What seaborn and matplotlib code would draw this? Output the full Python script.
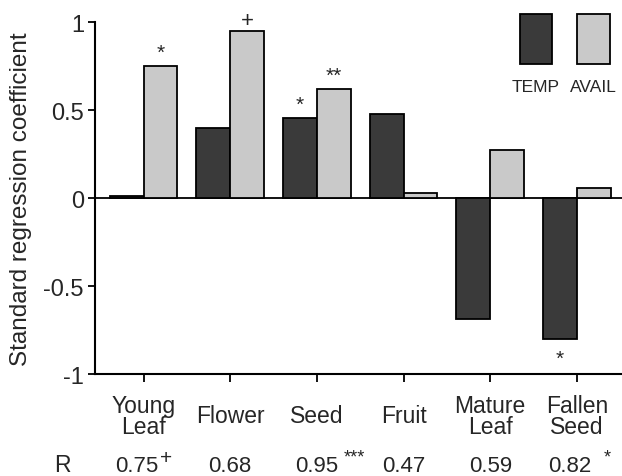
import matplotlib
matplotlib.use("Agg")
import matplotlib.pyplot as plt
import seaborn as sns
import pandas as pd
from matplotlib.patches import Rectangle

categories = ["Young\nLeaf", "Flower", "Seed", "Fruit", "Mature\nLeaf", "Fallen\nSeed"]
temp_vals = [0.01, 0.40, 0.455, 0.48, -0.69, -0.80]
avail_vals = [0.75, 0.95, 0.62, 0.03, 0.27, 0.057]
series_names = ["TEMP", "AVAIL"]
r_values = ["0.75", "0.68", "0.95", "0.47", "0.59", "0.82"]
r_marks = ["+", "", "***", "", "", "*"]
# significance marks on bars: (category index, series, mark)
bar_marks = [(0, "AVAIL", "*"), (1, "AVAIL", "+"), (2, "TEMP", "*"),
             (2, "AVAIL", "**"), (5, "TEMP", "*")]

sns.set_theme(style="white")
plt.rcParams["font.family"] = ["Liberation Sans", "DejaVu Sans"]

df = pd.DataFrame({
    "cat": categories * 2,
    "series": [series_names[0]] * 6 + [series_names[1]] * 6,
    "val": temp_vals + avail_vals,
})

colors = {"TEMP": "#3a3a3a", "AVAIL": "#c9c9c9"}

fig = plt.figure(figsize=(6.22, 4.77), dpi=100)
ax = fig.add_axes([95 / 622, (477 - 375) / 477, 527 / 622, 352 / 477])

sns.barplot(data=df, x="cat", y="val", hue="series", hue_order=series_names,
            palette=colors, edgecolor="black", linewidth=1.3, width=0.78,
            saturation=1, legend=False, ax=ax)

ax.set_xlim(-0.56, 5.52)
ax.set_ylim(-1, 1)
ax.axhline(0, color="black", lw=1.3, zorder=0.5)
sns.despine(ax=ax, top=True, right=True)
for s in ["left", "bottom"]:
    ax.spines[s].set_color("black")
    ax.spines[s].set_linewidth(1.5)

ax.set_yticks([-1, -0.5, 0, 0.5, 1])
ax.set_yticklabels(["-1", "-0.5", "0", "0.5", "1"])
ax.tick_params(axis="y", length=5, width=1.3, color="black", labelsize=17, pad=3, direction="out", left=True)
ax.tick_params(axis="x", length=6, width=1.3, color="black", labelsize=16.5, pad=24, direction="out", bottom=True)
for lbl in ax.get_xticklabels():
    lbl.set_va("center")
    lbl.set_linespacing(0.9)
ax.set_xlabel("")
ax.set_ylabel("Standard regression coefficient", fontsize=17.5, labelpad=8)

# marks on bars
bw = 0.78 / 2
for ci, ser, mark in bar_marks:
    v = temp_vals[ci] if ser == "TEMP" else avail_vals[ci]
    xo = ci - bw / 2 if ser == "TEMP" else ci + bw / 2
    if mark == "+":
        ax.annotate(mark, (xo, v), xytext=(0, 3.5), textcoords="offset points",
                    ha="center", va="baseline", fontsize=16)
    elif v >= 0:
        ax.annotate(mark, (xo, v), xytext=(0, 6), textcoords="offset points",
                    ha="center", va="baseline", fontsize=15)
    else:
        ax.annotate(mark, (xo, v), xytext=(0, -18), textcoords="offset points",
                    ha="center", va="baseline", fontsize=15)

# legend boxes
for i, name in enumerate(series_names):
    x0 = [0.806, 0.915][i]
    ax.add_patch(Rectangle((x0, 0.881), 0.062, 0.142, transform=ax.transAxes,
                           facecolor=colors[name], edgecolor="black", lw=1.3, clip_on=False))
    ax.text(x0 + 0.031, 0.818, name, transform=ax.transAxes, ha="center", va="center",
            fontsize=12.5)

# R row
fig.text(62 / 622, 5 / 477, "R", ha="center", va="baseline", fontsize=16.5)
for i, (rv, rm) in enumerate(zip(r_values, r_marks)):
    dx = -5 if rm in ("+", "*") else 0
    ax.annotate(rv, (i, 0), xycoords=("data", "figure fraction"), xytext=(dx, 3.6),
                textcoords="offset points", ha="center", va="baseline", fontsize=16)
    if rm:
        off = {"+": (16.5, 9.4), "***": (27, 10.8), "*": (22, 10.8)}[rm]
        ax.annotate(rm, (i, 0), xycoords=("data", "figure fraction"), xytext=off,
                    textcoords="offset points", ha="center", va="baseline",
                    fontsize=15 if rm == "+" else 13)

fig.savefig("out.png", dpi=100, facecolor="white")
